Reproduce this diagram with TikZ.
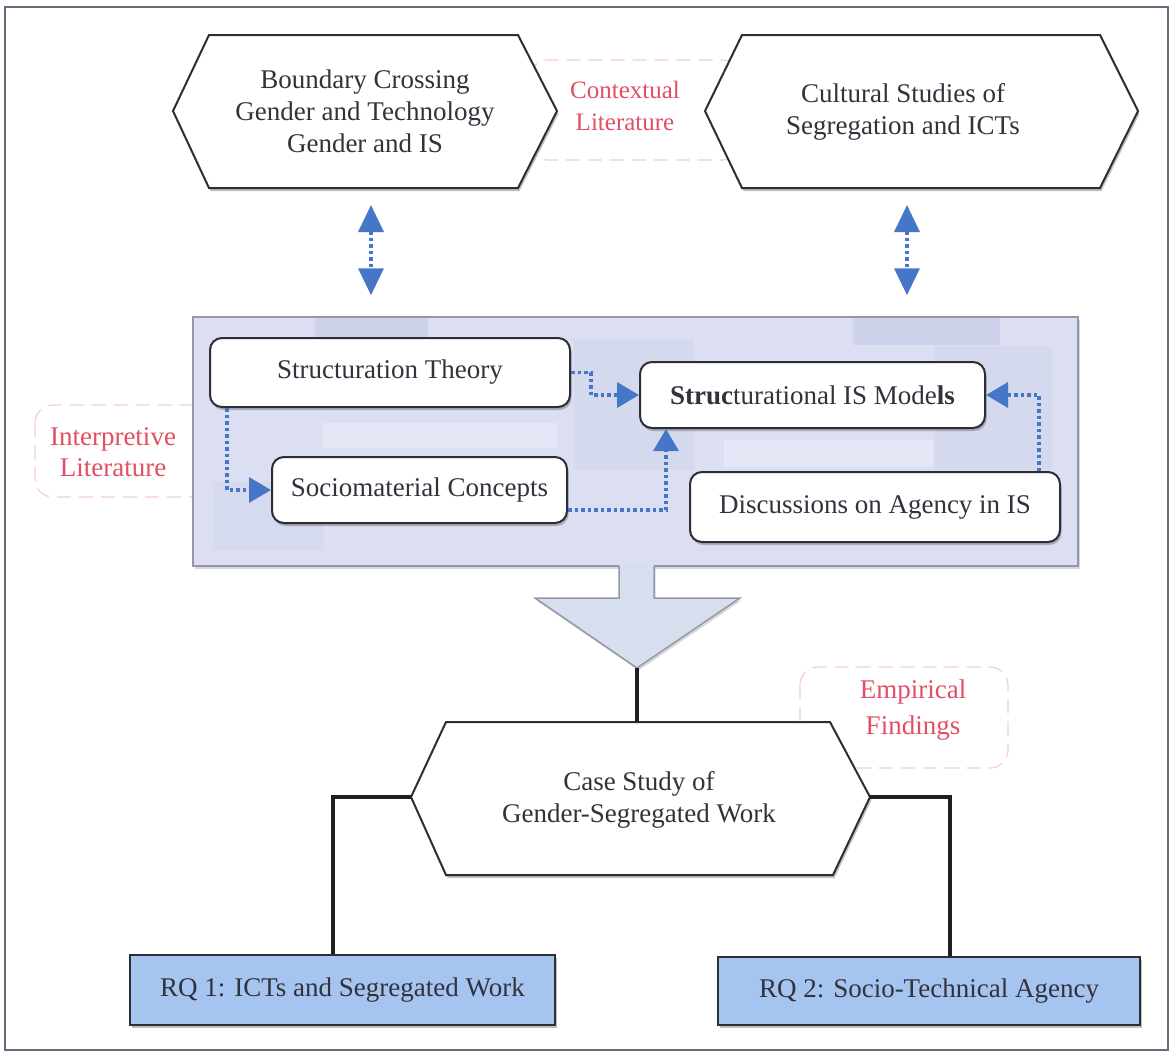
\documentclass[tikz,border=0pt]{standalone}
\usepackage{fontspec}
\IfFontExistsTF{LiberationSerif-Regular.ttf}
  {\newfontfamily\timesface{LiberationSerif}[Extension=.ttf, UprightFont=*-Regular, BoldFont=*-Bold]}
  {\newfontfamily\timesface{Liberation Serif}}
\usetikzlibrary{arrows.meta,calc,shadows}

\definecolor{txt}{RGB}{50,50,60}
\definecolor{lbl}{RGB}{226,78,100}
\definecolor{lblline}{RGB}{242,205,212}
\definecolor{flow}{RGB}{70,118,200}
\definecolor{panelfill}{RGB}{219,223,241}
\definecolor{paneldark}{RGB}{206,211,235}
\definecolor{panellight}{RGB}{228,231,245}
\definecolor{paneledge}{RGB}{150,152,170}
\definecolor{rqfill}{RGB}{166,196,240}
\definecolor{edge}{RGB}{45,45,55}
\definecolor{framec}{RGB}{110,105,125}
\definecolor{arrowfill}{RGB}{215,222,238}
\definecolor{trunkc}{RGB}{30,30,35}

\tikzset{
  softshadow/.style={drop shadow={opacity=0.35, shadow xshift=1.5pt, shadow yshift=-3pt, fill=black!70}},
  every node/.style={font=\timesface\fontsize{27}{32}\selectfont, text=txt, align=center},
  conceptbox/.style={draw=edge, line width=2pt, fill=white, rounded corners=12pt, softshadow},
  rqbox/.style={draw=edge, line width=2pt, fill=rqfill, softshadow},
  hexagon/.style={draw=edge, line width=2pt, fill=white, line join=miter, softshadow},
  labelbox/.style={draw=lblline, dash pattern=on 14pt off 8pt, line width=1.2pt, rounded corners=18pt},
  labeltext/.style={text=lbl},
  flowline/.style={draw=flow, line width=3.5pt, dash pattern=on 3.5pt off 3pt,
    -{Triangle[length=22pt,width=25pt]}},
  twoway/.style={draw=flow, line width=3.5pt, dash pattern=on 3.5pt off 3pt,
    {Triangle[length=27pt,width=25pt]}-{Triangle[length=27pt,width=25pt]}},
  trunk/.style={draw=trunkc, line width=4pt, line join=miter},
}

\begin{document}
\begin{tikzpicture}[x=1pt, y=-1pt]
  \useasboundingbox (0,0) rectangle (1175,1058);
  \fill[white] (0,0) rectangle (1175,1058);
  % outer frame
  \draw[framec, line width=2pt] (5,7) rectangle (1168,1050);

  % label boxes sitting behind the shapes
  \draw[labelbox] (530,60) rectangle (740,160);
  \draw[labelbox] (35,405) rectangle (230,497);
  \draw[labelbox] (800,667) rectangle (1008,768);

  % top hexagons
  \path[hexagon] (209,35) -- (518,35) -- (557,111) -- (518,188) -- (209,188) -- (173,111) -- cycle;
  \path[hexagon] (742,35) -- (1100,35) -- (1138,111) -- (1100,188) -- (742,188) -- (705,111) -- cycle;
  \node (bnd) at (365,111) {Boundary Crossing\\Gender and Technology\\Gender and IS};
  \node (cult) at (903,112) {Cultural Studies of\\Segregation and ICTs};
  \coordinate (bndS) at (371,188);
  \coordinate (cultS) at (907,188);

  \node[labeltext, font=\timesface\fontsize{25}{32}\selectfont] (ctx) at (625,106) {Contextual\\Literature};

  % interpretive literature panel
  \node[draw=paneledge, line width=1.5pt, fill=panelfill, minimum width=885pt, minimum height=249pt,
        inner sep=0pt, drop shadow={opacity=0.3, shadow xshift=1.5pt, shadow yshift=-3pt}]
        (panel) at (635.5,441.5) {};
  % tonal patches inside the panel
  \fill[paneldark] (315,318) rectangle (428,338);
  \fill[paneldark] (853,318) rectangle (1000,345);
  \fill[paneldark!50!panelfill] (574,340) rectangle (694,470);
  \fill[paneldark!50!panelfill] (935,345) rectangle (1052,470);
  \draw[paneledge!30, line width=1pt] (935,345) -- (1052,345) -- (1052,470);
  \fill[panellight] (322,423) rectangle (557,448);
  \fill[panellight] (724,440) rectangle (933,467);
  \fill[paneldark!40!panelfill] (212,482) rectangle (324,550);
  \draw[paneledge!30, line width=1pt] (212,482) -- (212,550) -- (324,550);

  \node[labeltext, font=\timesface\fontsize{27}{31}\selectfont] (interp) at (113,452) {Interpretive\\Literature};

  \node[conceptbox, minimum width=360pt, minimum height=69pt] (st) at (390,372.5) {Structuration Theory};
  \node[conceptbox, minimum width=345pt, minimum height=66pt] (sm) at (812.5,395) {\textbf{Struc}turational IS Mode\textbf{ls}};
  \node[conceptbox, minimum width=295pt, minimum height=66pt] (sc) at (419.5,490) {Sociomaterial Concepts};
  \node[conceptbox, minimum width=370pt, minimum height=70pt] (da) at (875,507) {Discussions on Agency in IS};

  % flows between concepts
  \draw[flowline] ($(st.south west)+(18,0)$) |- (sc.west);
  \draw[flowline] (st.east) -- ++(20,0) |- (sm.west);
  \draw[flowline] ($(sc.east)+(0,20)$) -| ($(sm.south west)+(27,0)$);
  \draw[flowline] ($(da.north east)+(-22,0)$) |- (sm.east);

  % links between contextual literature and the panel
  \draw[twoway] ($(bndS)+(0,17)$) -- ($(bndS |- panel.north)+(0,-21)$);
  \draw[twoway] ($(cultS)+(0,17)$) -- ($(cultS |- panel.north)+(0,-21)$);

  % big downward arrow
  \path[fill=arrowfill, drop shadow={opacity=0.3, shadow xshift=1.5pt, shadow yshift=-2.5pt}]
    (619,564) -- (619,598) -- (535,598) -- (637,668) -- (740,598) -- (654,598) -- (654,564) -- cycle;
  \draw[paneledge, line width=1.5pt, line join=miter]
    (619,566) -- (619,598) -- (535,598) -- (637,668) -- (740,598) -- (654,598) -- (654,566);
  \coordinate (apex) at (637,668);

  % empirical findings
  \node[labeltext, font=\timesface\fontsize{27}{36}\selectfont] (emp) at (913,710) {Empirical\\Findings};

  \path[hexagon] (446,722) -- (830,722) -- (870,797) -- (833,875) -- (446,875) -- (411,797) -- cycle;
  \node (case) at (639,800) {Case Study of\\Gender-Segregated Work};
  \coordinate (caseN) at (637,722);
  \coordinate (caseW) at (411,797);
  \coordinate (caseE) at (870,797);

  \node[rqbox, minimum width=425pt, minimum height=70pt] (rq1) at (342.5,990) {RQ 1: ICTs and Segregated Work};
  \node[rqbox, minimum width=422pt, minimum height=68pt] (rq2) at (929,991) {RQ 2: Socio-Technical Agency};

  % trunk lines
  \draw[trunk] (apex) -- (caseN);
  \draw[trunk] (caseW) -- ($(caseW -| rq1.north)+(-10,0)$) -- ($(rq1.north)+(-10,0)$);
  \draw[trunk] (caseE) -- ($(caseE -| rq2.north)+(21,0)$) -- ($(rq2.north)+(21,0)$);
\end{tikzpicture}
\end{document}
